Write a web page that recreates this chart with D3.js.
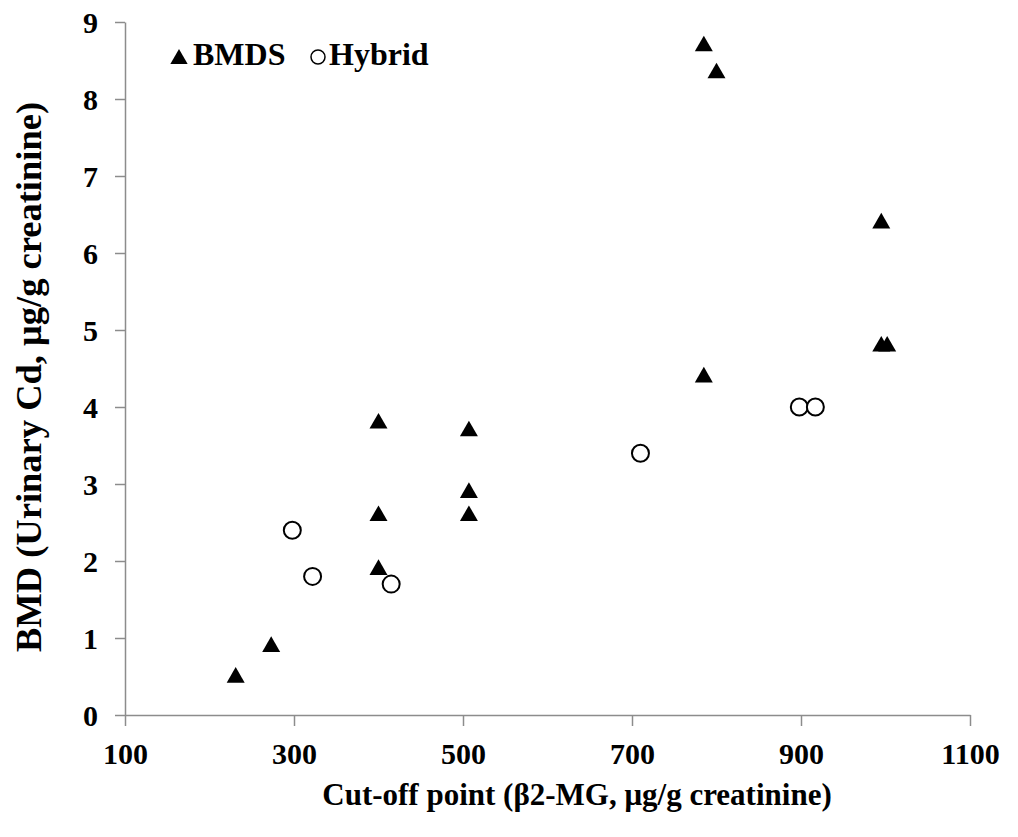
<!DOCTYPE html>
<html>
<head>
<meta charset="utf-8">
<script src="https://cdn.jsdelivr.net/npm/d3@7"></script>
<style>
  body { margin: 0; background: #fff; }
  svg text { font-family: "Liberation Serif", "Times New Roman", serif; font-weight: bold; }
</style>
</head>
<body>
<svg id="chart" width="1018" height="837"></svg>
<script>
// BMDS results (triangles)
var bmdsX = [231, 273, 400, 400, 400, 507, 507, 507, 785, 800, 785, 995, 995, 1002];
var bmdsY = [0.5, 0.9, 3.8, 2.6, 1.9, 3.7, 2.9, 2.6, 8.7, 8.35, 4.4, 6.4, 4.8, 4.8];
// Hybrid results (circles)
var hybridX = [298, 322, 415, 710, 898, 917];
var hybridY = [2.4, 1.8, 1.7, 3.4, 4.0, 4.0];

var xTicks = [100, 300, 500, 700, 900, 1100];
var yTicks = [0, 1, 2, 3, 4, 5, 6, 7, 8, 9];

var svg = d3.select("#chart");
var plotLeft = 125, plotRight = 970, plotTop = 22, plotBottom = 715;

var x = d3.scaleLinear().domain([100, 1100]).range([plotLeft, plotRight]);
var y = d3.scaleLinear().domain([0, 9]).range([plotBottom, plotTop]);

var xAxis = svg.append("g")
	.attr("transform", "translate(0," + plotBottom + ")")
	.call(d3.axisBottom(x).tickValues(xTicks).tickFormat(d3.format("d"))
		.tickSize(11).tickPadding(17).tickSizeOuter(0));
var yAxis = svg.append("g")
	.attr("transform", "translate(" + plotLeft + ",0)")
	.call(d3.axisLeft(y).tickValues(yTicks).tickSize(10).tickPadding(17).tickSizeOuter(0));

[xAxis, yAxis].forEach(function(g){
	g.attr("font-size", null).attr("font-family", null);
	g.select(".domain").attr("stroke", "#8c8c8c").attr("stroke-width", 1.5);
	g.selectAll(".tick line").attr("stroke", "#8c8c8c").attr("stroke-width", 1.5);
	g.selectAll(".tick text")
		.attr("font-size", 30)
		.attr("fill", "#000");
});
yAxis.selectAll(".tick text").attr("dy", "0.35em");

var bmds = bmdsX.map(function(d, i){ return {x: d, y: bmdsY[i]}; });
var hybrid = hybridX.map(function(d, i){ return {x: d, y: hybridY[i]}; });

var tri = d3.symbol().type(d3.symbolTriangle).size(140);

svg.append("g").selectAll("path")
	.data(bmds)
	.enter().append("path")
	.attr("d", tri)
	.attr("transform", function(d){ return "translate(" + x(d.x) + "," + (y(d.y) + 1) + ")"; })
	.attr("fill", "#000");

svg.append("g").selectAll("circle")
	.data(hybrid)
	.enter().append("circle")
	.attr("cx", function(d){ return x(d.x); })
	.attr("cy", function(d){ return y(d.y); })
	.attr("r", 8.5)
	.attr("fill", "#fff")
	.attr("stroke", "#000")
	.attr("stroke-width", 2);

// legend
svg.append("path")
	.attr("d", d3.symbol().type(d3.symbolTriangle).size(130))
	.attr("transform", "translate(179,59)")
	.attr("fill", "#000");
svg.append("text")
	.attr("x", 193).attr("y", 65)
	.attr("font-size", 32)
	.text("BMDS");
svg.append("circle")
	.attr("cx", 318).attr("cy", 57).attr("r", 7)
	.attr("fill", "#fff").attr("stroke", "#000").attr("stroke-width", 1.5);
svg.append("text")
	.attr("x", 329).attr("y", 65)
	.attr("font-size", 32)
	.text("Hybrid");

// axis titles
svg.append("text")
	.attr("x", 577).attr("y", 805)
	.attr("text-anchor", "middle")
	.attr("font-size", 31)
	.text("Cut-off point (β2-MG, μg/g creatinine)");

svg.append("text")
	.attr("transform", "translate(41,377) rotate(-90)")
	.attr("text-anchor", "middle")
	.attr("font-size", 36.5)
	.text("BMD (Urinary Cd, μg/g creatinine)");
</script>
</body>
</html>
